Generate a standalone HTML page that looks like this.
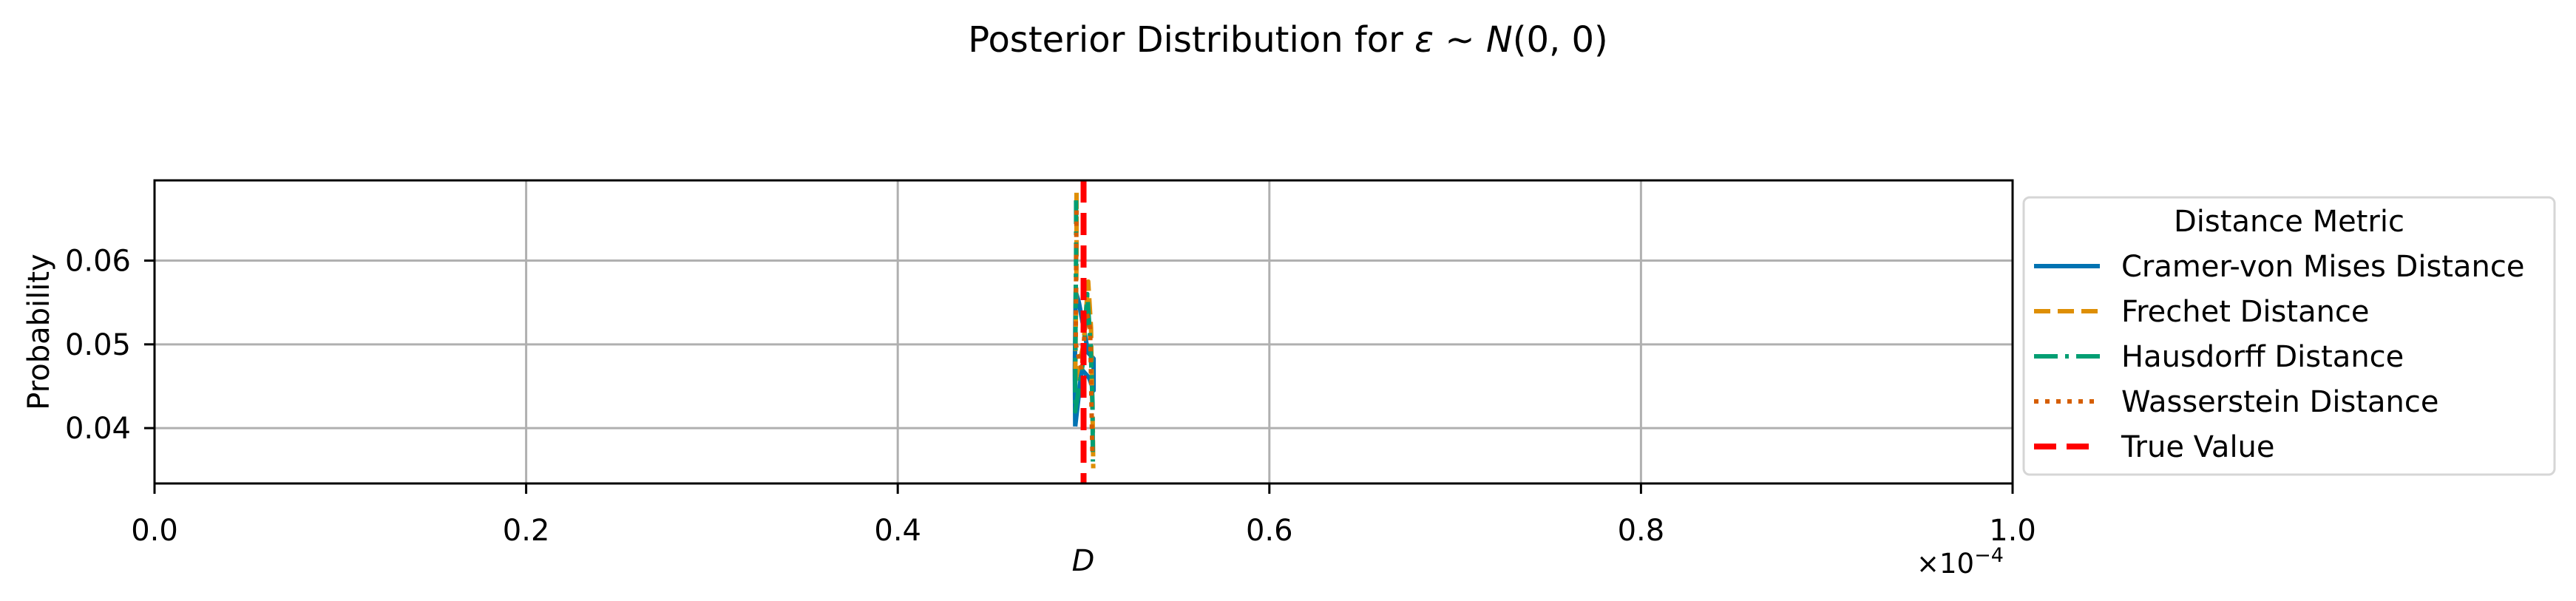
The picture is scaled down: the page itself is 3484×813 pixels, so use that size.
<!DOCTYPE html>
<html><head><meta charset="utf-8">
<style>
html,body{margin:0;padding:0;background:#fff;}
svg{display:block;font-family:"DejaVu Sans","Liberation Sans",sans-serif;}
</style></head>
<body>
<svg id="chart" width="3484" height="813" viewBox="0 0 3484 813" xmlns="http://www.w3.org/2000/svg">
<rect width="3484" height="813" fill="#fff"/>
<text x="1742" y="70" font-size="48" text-anchor="middle">Posterior Distribution for <tspan font-style="italic">ε</tspan> ∼ <tspan font-style="italic">N</tspan>(0, 0)</text>
<g id="grid"></g>
<g id="series"></g>
<rect x="209" y="244" width="2513" height="410" fill="none" stroke="#000" stroke-width="3"/>
<g id="ticks"></g>
<text x="1465" y="772" font-size="40" font-style="italic" text-anchor="middle">D</text>
<text x="2592" y="775" font-size="37">×10<tspan dy="-15" font-size="27">−4</tspan></text>
<text transform="translate(66,449) rotate(-90)" font-size="40" text-anchor="middle">Probability</text>
<g>
<rect x="2737" y="267" width="718" height="375" rx="8" fill="#fff" stroke="#d6d6d6" stroke-width="3"/>
<text x="3096" y="313" font-size="40" text-anchor="middle">Distance Metric</text>
<g><line x1="2751" y1="360" x2="2840" y2="360" stroke="#0173b2" stroke-width="6"/><text x="2869" y="374" font-size="40">Cramer-von Mises Distance</text></g>
<g><line x1="2751" y1="421" x2="2840" y2="421" stroke="#de8f05" stroke-width="6" stroke-dasharray="22,10"/><text x="2869" y="435" font-size="40">Frechet Distance</text></g>
<g><line x1="2751" y1="482" x2="2840" y2="482" stroke="#029e73" stroke-width="6" stroke-dasharray="32,10,5,10"/><text x="2869" y="496" font-size="40">Hausdorff Distance</text></g>
<g><line x1="2751" y1="543" x2="2840" y2="543" stroke="#d55e00" stroke-width="6" stroke-dasharray="6,9"/><text x="2869" y="557" font-size="40">Wasserstein Distance</text></g>
<g><line x1="2751" y1="604" x2="2830" y2="604" stroke="#ff0000" stroke-width="8" stroke-dasharray="30,14"/><text x="2869" y="618" font-size="40">True Value</text></g>
</g>
</svg>
<script>
const xTicks = [0.0, 0.2, 0.4, 0.6, 0.8, 1.0];
const xTickLabels = ["0.0", "0.2", "0.4", "0.6", "0.8", "1.0"];
const yTicks = [0.04, 0.05, 0.06];
const yTickLabels = ["0.04", "0.05", "0.06"];
const trueValue = 0.5;
const cvmX = [0.4955, 0.4953, 0.4956, 0.4958, 0.4975, 0.5000, 0.5025, 0.5054, 0.5054, 0.5030, 0.4990, 0.4955];
const cvmY = [0.0402, 0.0470, 0.0527, 0.0563, 0.0550, 0.0520, 0.0490, 0.0483, 0.0445, 0.0460, 0.0470, 0.0402];
const frechetX = [0.4962, 0.4962, 0.4958, 0.4955, 0.5000, 0.5025, 0.5040, 0.5045, 0.5050, 0.5052];
const frechetY = [0.0681, 0.0600, 0.0520, 0.0455, 0.0500, 0.0575, 0.0520, 0.0450, 0.0395, 0.0352];
const hausX = [0.4960, 0.4960, 0.4957, 0.4955, 0.4998, 0.5020, 0.5038, 0.5048, 0.5050];
const hausY = [0.0672, 0.0610, 0.0540, 0.0420, 0.0480, 0.0560, 0.0500, 0.0430, 0.0360];
const wassX = [0.4962, 0.4960, 0.4958, 0.4990, 0.5015, 0.5035, 0.5040, 0.5045, 0.5048];
const wassY = [0.0660, 0.0590, 0.0500, 0.0470, 0.0540, 0.0520, 0.0460, 0.0400, 0.0365];

const X0 = 209, X1 = 2722, Y0 = 654, Y1 = 244;
const xMin = 0, xMax = 1, yMin = 0.03339, yMax = 0.06958;
const sx = v => X0 + (v - xMin) / (xMax - xMin) * (X1 - X0);
const sy = v => Y0 - (v - yMin) / (yMax - yMin) * (Y0 - Y1);
const NS = "http://www.w3.org/2000/svg";
const grid = document.getElementById('grid');
const ticks = document.getElementById('ticks');
const series = document.getElementById('series');
function mk(tag, attrs, parent) {
  const e = document.createElementNS(NS, tag);
  for (const k in attrs) e.setAttribute(k, attrs[k]);
  parent.appendChild(e);
  return e;
}
xTicks.forEach((t, i) => {
  const x = sx(t);
  const g = mk('line', {x1: x, y1: Y1, x2: x, y2: Y0, stroke: '#b0b0b0', 'stroke-width': 3}, grid);
  
  
  const tk = mk('line', {x1: x, y1: Y0, x2: x, y2: Y0 + 14, stroke: '#000', 'stroke-width': 3}, ticks);
  
  
  const lb = mk('text', {x: x, y: 731, 'font-size': 40, 'text-anchor': 'middle'}, ticks);
  lb.textContent = xTickLabels[i];
  
  
});
yTicks.forEach((t, i) => {
  const y = sy(t);
  const g = mk('line', {x1: X0, y1: y, x2: X1, y2: y, stroke: '#b0b0b0', 'stroke-width': 3}, grid);
  
  
  const tk = mk('line', {x1: X0 - 14, y1: y, x2: X0, y2: y, stroke: '#000', 'stroke-width': 3}, ticks);
  
  
  const lb = mk('text', {x: 177, y: y + 14, 'font-size': 40, 'text-anchor': 'end'}, ticks);
  lb.textContent = yTickLabels[i];
  
  
});
function drawLine(xs, ys, color, dash, name) {
  const pts = xs.map((v, i) => sx(v).toFixed(1) + ',' + sy(ys[i]).toFixed(1)).join(' ');
  const attrs = {points: pts, fill: 'none', stroke: color, 'stroke-width': 6, 'stroke-linejoin': 'round'};
  if (dash) attrs['stroke-dasharray'] = dash;
  const p = mk('polyline', attrs, series);
  
  
}
drawLine(cvmX, cvmY, '#0173b2', null, 'cramer-von-mises-line');
drawLine(frechetX, frechetY, '#de8f05', '22,10', 'frechet-line');
drawLine(hausX, hausY, '#029e73', '32,10,5,10', 'hausdorff-line');
drawLine(wassX, wassY, '#d55e00', '6,9', 'wasserstein-line');
const tv = mk('line', {x1: sx(trueValue), y1: Y1, x2: sx(trueValue), y2: Y0, stroke: '#ff0000', 'stroke-width': 8, 'stroke-dasharray': '30,14'}, series);


</script>
</body></html>
